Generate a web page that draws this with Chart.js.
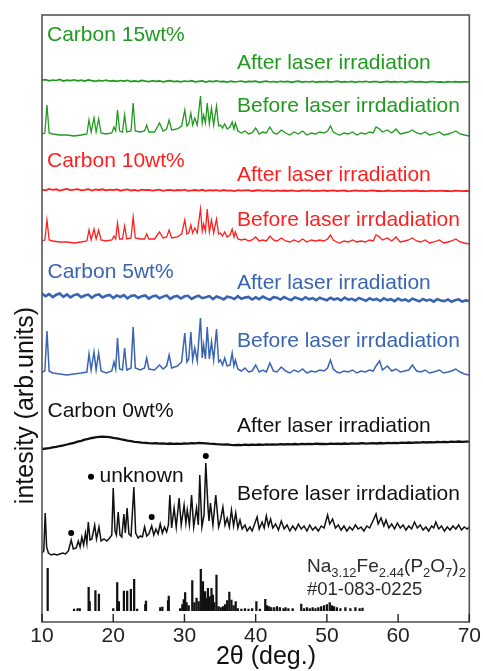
<!DOCTYPE html>
<html><head><meta charset="utf-8">
<script src="https://cdn.jsdelivr.net/npm/chart.js@4.4.1/dist/chart.umd.min.js"></script>
<style>html,body{margin:0;padding:0;background:#fff;overflow:hidden}canvas{display:block}</style>
</head><body><canvas id="c" width="483" height="671"></canvas>
<script>
// ---------- x axis ----------
const xTicks = [10, 20, 30, 40, 50, 60, 70];

// ---------- "after laser irradiation" patterns (2θ grid + relative intensity) ----------
const afterAngles = [
  10,10.5,11,11.5,12,12.5,13,13.5,14,14.5,
  15,15.5,16,16.5,17,17.5,18,18.5,19,19.5,
  20,20.5,21,21.5,22,22.5,23,23.5,24,24.5,
  25,25.5,26,26.5,27,27.5,28,28.5,29,29.5,
  30,30.5,31,31.5,32,32.5,33,33.5,34,34.5,
  35,35.5,36,36.5,37,37.5,38,38.5,39,39.5,
  40,40.5,41,41.5,42,42.5,43,43.5,44,44.5,
  45,45.5,46,46.5,47,47.5,48,48.5,49,49.5,
  50,50.5,51,51.5,52,52.5,53,53.5,54,54.5,
  55,55.5,56,56.5,57,57.5,58,58.5,59,59.5,
  60,60.5,61,61.5,62,62.5,63,63.5,64,64.5,
  65,65.5,66,66.5,67,67.5,68,68.5,69,69.5,
  70];
const green15After = [
  1.8,2.4,1.2,2.0,1.5,2.6,1.0,1.9,1.4,2.2,
  1.1,1.8,0.9,2.1,1.3,0.7,1.6,1.0,1.9,0.8,
  1.4,0.6,1.5,0.9,1.7,0.5,1.2,0.4,1.6,0.8,
  0.3,1.3,0.6,1.1,0.2,0.9,1.4,0.4,0.8,0.1,
  1.0,0.5,1.3,0.2,0.7,1.1,0.0,0.8,0.4,1.2,
  0.3,0.6,-0.2,0.9,0.2,0.5,1.0,-0.1,0.6,0.3,
  0.8,-0.3,0.4,0.9,0.0,0.5,-0.2,0.7,0.1,0.6,
  -0.4,0.3,0.8,-0.1,0.5,0.0,0.7,-0.3,0.4,0.2,
  0.6,-0.2,0.3,0.9,-0.1,0.4,0.0,0.6,-0.3,0.5,
  0.1,0.7,-0.2,0.3,0.5,-0.4,0.2,0.6,-0.1,0.4,
  0.0,0.5,-0.3,0.3,0.6,-0.2,0.4,0.1,-0.4,0.3,
  0.5,-0.1,0.2,-0.3,0.4,0.0,0.3,-0.2,0.1,0.2,
  0.0];
const red10After = [
  1.5,0.6,2.0,1.1,1.7,0.5,1.4,2.1,0.8,1.3,
  1.9,0.7,1.2,1.8,0.4,1.5,1.0,1.7,0.6,1.3,
  0.9,1.6,0.3,1.2,1.5,0.5,1.1,0.2,1.4,0.8,
  1.2,0.4,0.9,1.3,0.1,0.8,1.1,0.3,1.0,0.6,
  1.3,0.2,0.7,1.0,0.4,1.2,0.1,0.9,0.5,0.8,
  0.2,1.0,0.4,0.7,-0.1,0.8,0.3,0.6,0.9,0.0,
  0.5,0.8,0.1,0.6,0.3,-0.2,0.7,0.2,0.5,0.0,
  0.6,0.2,-0.1,0.5,0.3,0.7,-0.2,0.4,0.1,0.6,
  0.0,0.4,0.7,-0.1,0.3,0.5,-0.3,0.2,0.6,0.1,
  0.4,-0.2,0.3,0.6,0.0,0.2,-0.3,0.5,0.1,-0.1,
  0.4,0.2,-0.2,0.3,0.0,0.5,-0.1,0.2,-0.3,0.3,
  0.1,-0.2,0.4,0.0,0.2,-0.3,0.3,0.1,-0.1,0.2,
  0.0];
const blue5After = [
  4.5,1.8,3.9,0.9,3.2,4.4,1.1,3.6,0.6,2.9,
  3.8,0.8,2.5,3.4,0.2,2.8,3.5,0.5,2.2,3.1,
  -0.1,2.6,1.0,3.0,-0.4,2.0,2.7,0.1,1.8,2.5,
  -0.6,1.6,2.3,-0.3,1.4,2.6,-0.8,1.2,2.0,-0.5,
  1.7,2.2,-0.9,1.0,2.4,-0.2,0.8,1.9,-1.1,1.5,
  0.3,-1.4,1.3,0.6,-1.0,1.8,-0.7,0.4,1.1,-1.5,
  0.7,-1.2,1.4,-0.4,-1.8,0.9,0.2,-1.6,1.0,-0.9,
  -2.0,0.5,-0.6,-1.9,0.8,-1.3,-0.1,-2.2,0.3,-1.1,
  -2.3,0.2,-1.5,-0.5,-2.5,0.4,-1.7,-0.8,-2.6,0.0,
  -1.4,-2.8,-0.3,-1.9,-0.9,-3.0,-0.2,-2.1,-1.2,-3.2,
  -0.6,-2.4,-1.5,-3.3,-0.8,-2.0,-3.4,-1.0,-2.7,-1.6,
  -3.6,-1.1,-2.5,-3.1,-1.4,-3.8,-2.2,-1.3,-3.5,-2.4,
  -3.0];
const black0After = [
  -5.0,-4.6,-4.2,-3.4,-2.9,-2.0,-1.3,-0.5,0.4,1.2,
  2.3,3.2,4.3,5.1,6.0,6.6,7.1,7.4,7.2,6.9,
  6.2,5.6,4.8,4.1,3.3,2.8,2.2,1.8,1.3,1.1,
  0.8,0.6,0.9,0.4,0.6,0.2,0.5,0.1,0.4,0.2,
  0.5,0.3,0.8,0.6,1.1,0.9,0.7,0.4,0.2,-0.1,
  -0.3,-0.6,-0.4,-0.9,-1.1,-0.8,-1.2,-0.7,-1.0,-0.6,
  -0.9,-0.5,-0.8,-0.4,-0.7,-0.3,-0.6,-0.2,-0.5,-0.1,
  -0.4,0.0,-0.3,0.1,-0.2,0.2,-0.1,0.3,0.0,0.2,
  -0.1,0.3,0.1,0.4,0.0,0.5,0.2,0.6,0.3,0.5,
  0.8,0.4,0.7,0.9,0.5,1.0,0.7,1.1,0.8,1.2,
  0.9,1.3,1.1,1.5,1.2,1.6,1.4,1.8,1.5,1.9,
  1.7,2.0,1.8,2.2,1.9,2.3,2.1,2.5,2.2,2.4,
  2.3];

// ---------- "before laser irradiation" patterns (carbon 5/10/15 wt%) ----------
const beforeAngles = [
  10.0,10.4,10.7,11.0,11.5,12.5,13.5,14.5,15.5,16.3,
  16.6,16.9,17.3,17.6,17.95,18.3,19.0,19.8,20.1,20.35,
  20.6,20.9,21.3,21.6,21.9,22.5,22.8,23.1,23.8,24.4,
  24.7,25.0,25.8,26.5,27.0,27.5,27.85,28.2,29.0,29.6,
  30.05,30.35,30.6,30.9,31.15,31.45,31.8,32.25,32.5,32.7,
  32.95,33.2,33.5,33.8,34.1,34.5,34.8,35.05,35.35,35.65,
  36.0,36.4,36.7,36.95,37.15,37.5,38.0,38.5,39.0,39.5,
  40.0,40.5,41.0,41.5,42.0,42.5,43.0,43.6,44.2,44.8,
  45.4,46.0,46.6,47.2,47.8,48.4,49.0,49.6,50.1,50.5,
  50.9,51.4,51.8,52.4,53.0,53.6,54.2,54.8,55.4,56.0,
  56.5,56.9,57.4,57.8,58.5,59.1,59.7,60.3,60.9,61.5,
  62.0,62.6,63.2,63.8,64.4,65.0,65.8,66.4,67.0,67.5,
  68.1,68.7,69.3,70.0];
const green15Before = [
  1,2,30,2,1,0,0,-1,0,1,
  15,3,17,3,16,2,1,2,8,4,
  25,4,3,20,3,4,32,4,3,4,
  10,3,3,12,4,6,15,5,6,9,
  25,9,11,22,10,17,10,39,12,20,
  12,32,11,27,10,29,9,10,7,11,
  6,8,13,6,12,4,2,4,1,2,
  7,1,3,2,8,2,1,5,2,0,
  3,1,4,0,2,1,3,2,4,9,
  3,1,0,2,1,3,0,2,1,3,
  2,8,6,3,5,2,6,1,2,3,
  5,2,1,3,0,1,3,0,1,2,
  4,1,0,-1];
const red10Before = [
  1,2,22,2,1,0,0,-1,0,1,
  12,2,13,3,12,2,1,2,6,3,
  19,3,3,16,3,4,25,4,3,3,
  8,3,3,10,4,5,12,4,5,8,
  22,8,9,17,9,14,9,33,11,18,
  11,33,10,22,9,23,8,9,6,10,
  5,7,13,5,10,3,2,3,1,2,
  5,1,2,1,6,2,1,4,1,0,
  2,0,3,0,2,1,2,1,3,7,
  2,0,-1,1,0,2,0,1,0,2,
  1,7,5,2,4,1,5,0,1,2,
  4,1,0,2,-1,0,2,-1,0,1,
  3,0,-1,-2];
const blue5Before = [
  2,3,43,3,1,0,-1,0,1,2,
  20,4,22,4,21,3,1,3,12,5,
  36,5,4,26,4,6,47,6,4,6,
  16,5,4,9,5,8,19,6,8,12,
  41,12,15,42,14,26,13,56,16,29,
  15,47,15,32,14,45,12,14,9,16,
  8,9,21,8,14,5,3,6,2,3,
  9,2,4,2,11,3,2,7,3,1,
  4,2,5,1,3,2,4,3,6,14,
  5,2,1,3,2,4,1,3,2,4,
  3,8,13,4,8,3,5,2,3,4,
  9,3,2,4,1,2,4,1,2,3,
  5,2,0,-1];

// ---------- carbon 0 wt% before irradiation: [2θ, relative intensity] ----------
const black0Before = [
  [10.0,2],[10.25,4],[10.45,42],[10.65,8],[10.9,2],[11.3,0],[11.7,1],[12.1,0],[12.5,1],[12.9,2],
  [13.3,1],[13.7,4],[14.1,15],[14.4,6],[14.8,7],[15.1,14],[15.35,8],[15.6,18],[15.85,10],[16.1,22],
  [16.3,12],[16.5,33],[16.75,15],[17.0,16],[17.4,30],[17.65,16],[18.0,28],[18.3,14],[18.7,16],[19.1,14],
  [19.5,17],[19.8,20],[20.0,67],[20.25,24],[20.45,20],[20.7,43],[20.95,20],[21.2,18],[21.5,41],[21.7,22],
  [21.95,47],[22.2,21],[22.5,19],[22.9,68],[23.15,22],[23.5,17],[23.8,19],[24.1,18],[24.4,28],[24.7,19],
  [25.0,21],[25.4,29],[25.7,20],[26.0,26],[26.3,21],[26.6,31],[26.9,22],[27.2,28],[27.5,23],[27.75,30],
  [27.95,60],[28.2,27],[28.55,47],[28.85,28],[29.25,57],[29.55,30],[29.95,50],[30.2,32],[30.4,45],[30.7,30],
  [31.0,60],[31.3,28],[31.7,47],[31.95,30],[32.15,80],[32.45,28],[32.75,40],[33.0,92],[33.3,48],[33.45,34],
  [33.65,52],[34.0,30],[34.4,60],[34.8,28],[35.1,36],[35.4,48],[35.7,30],[36.0,37],[36.3,28],[36.6,45],
  [36.9,29],[37.2,42],[37.5,27],[37.8,35],[38.1,26],[38.5,30],[38.8,24],[39.2,28],[39.5,24],[39.9,32],
  [40.2,38],[40.5,26],[40.9,33],[41.2,27],[41.5,39],[41.8,29],[42.1,36],[42.4,27],[42.8,31],[43.2,25],
  [43.6,34],[44.0,26],[44.4,30],[44.8,24],[45.2,29],[45.6,25],[46.0,31],[46.4,26],[46.8,29],[47.2,24],
  [47.6,30],[48.0,25],[48.4,28],[48.8,24],[49.2,29],[49.6,27],[50.1,40],[50.4,31],[50.8,36],[51.2,27],
  [51.6,30],[52.0,25],[52.4,29],[52.8,24],[53.2,28],[53.6,25],[54.0,30],[54.4,26],[54.8,28],[55.2,24],
  [55.6,29],[56.0,27],[56.4,33],[56.9,41],[57.2,31],[57.6,37],[58.0,29],[58.3,35],[58.7,27],[59.1,31],
  [59.5,26],[59.9,32],[60.3,27],[60.7,30],[61.1,25],[61.5,29],[61.9,26],[62.3,33],[62.7,27],[63.1,30],
  [63.5,25],[63.9,28],[64.3,24],[64.7,29],[65.0,27],[65.3,33],[65.7,26],[66.1,29],[66.5,24],[66.9,28],
  [67.3,25],[67.7,29],[68.1,26],[68.5,30],[68.9,25],[69.3,28],[69.7,26],[70.0,28]];
// unknown-phase markers (2θ, relative intensity of the dot)
const unknownMarks = [[14.1,22],[25.4,38],[33.0,99]];

// ---------- reference pattern Na3.12Fe2.44(P2O7)2 #01-083-0225 ----------
const refAngles = [
  10.8,14.5,15.0,15.3,16.55,16.7,17.5,17.99,20.0,20.56,
  20.8,21.5,21.96,22.48,22.94,23.36,24.5,24.6,26.6,26.9,
  27.7,27.8,29.4,29.7,29.9,30.1,30.3,30.6,31.1,31.4,
  31.7,32.0,32.3,32.6,32.9,33.1,33.3,33.55,33.8,34.0,
  34.2,34.5,34.8,35.1,35.4,35.7,36.0,36.3,36.6,36.9,
  37.2,37.5,38.0,38.5,39.0,39.5,40.1,40.6,41.35,41.6,
  41.9,42.2,42.6,43.0,43.4,43.9,44.2,44.6,45.2,46.4,
  46.8,47.2,47.6,48.0,48.4,48.8,49.2,49.6,50.0,50.4,
  50.7,51.0,51.4,51.9,52.6,53.3,54.0,54.6,55.0];
const refIntensity = [
  42.4,1.5,2,2,23.4,9,20,16.7,2,28,
  9,19.7,19.7,21.4,31.4,1.5,6,9.7,3,3.5,
  10,14.7,2,6,11,18,8,5,30,8,
  12.7,9,41.4,29,19,12,22.4,14,22.4,15.7,
  8,35.7,4,3,4,6,10,18.7,10.7,5,
  9,2,1.5,2,1.5,2,9,1.5,11.4,5,
  4,3,3,4,3,2,3,2,2,6.7,
  2,3,2,3,2,3,4,5,6,8,
  5,4,3,2,3,2,3,2,2.5];

// ---------- stacking offsets of each trace (layout) ----------
const traceOffsets = {
  green15After: 540, green15Before: 487,
  red10After: 431, red10Before: 380,
  blue5After: 324, blue5Before: 248,
  black0After: 178, black0Before: 67,
  reference: 11.3
};
const colors = { green: '#1f9a1f', red: '#ff1f1f', blue: '#3864b2', black: '#111111', ref: '#111111' };

// ---------- build datasets ----------
const onGrid = (angles, vals, off) => angles.map((a, i) => ({ x: a, y: off + vals[i] }));
const onPairs = (pairs, off) => pairs.map(p => ({ x: p[0], y: off + p[1] }));
const lineDs = (data, color, w) => ({ type: 'line', data, borderColor: color, borderWidth: w, pointRadius: 0, tension: 0, fill: false });

const datasets = [
  lineDs(onGrid(afterAngles, green15After, traceOffsets.green15After), colors.green, 1.7),
  lineDs(onGrid(beforeAngles, green15Before, traceOffsets.green15Before), colors.green, 1.3),
  lineDs(onGrid(afterAngles, red10After, traceOffsets.red10After), colors.red, 1.8),
  lineDs(onGrid(beforeAngles, red10Before, traceOffsets.red10Before), colors.red, 1.3),
  lineDs(onGrid(afterAngles, blue5After, traceOffsets.blue5After), colors.blue, 2.6),
  lineDs(onGrid(beforeAngles, blue5Before, traceOffsets.blue5Before), colors.blue, 1.5),
  lineDs(onGrid(afterAngles, black0After, traceOffsets.black0After), colors.black, 2.3),
  lineDs(onPairs(black0Before, traceOffsets.black0Before), colors.black, 1.5),
  { type: 'scatter', data: onPairs(unknownMarks, traceOffsets.black0Before), pointRadius: 3, pointBackgroundColor: '#000', pointBorderWidth: 0, showLine: false },
  { type: 'bar', data: refAngles.map((a, i) => ({ x: a, y: [traceOffsets.reference, traceOffsets.reference + refIntensity[i]] })),
    backgroundColor: colors.ref, barThickness: 1.6, grouped: false, borderWidth: 0 }
];

// ---------- annotation texts ----------
const FONT = '"Liberation Sans", Arial, sans-serif';
const labels = [
  { t: 'Carbon 15wt%', x: 47, y: 40.7, c: colors.green },
  { t: 'After laser irradiation', x: 237, y: 69, c: colors.green },
  { t: 'Before laser irrdadiation', x: 237, y: 111.7, c: colors.green },
  { t: 'Carbon 10wt%', x: 47, y: 166.7, c: colors.red },
  { t: 'After laser irradiation', x: 237, y: 180.7, c: colors.red },
  { t: 'Before laser irrdadiation', x: 237, y: 226, c: colors.red },
  { t: 'Carbon 5wt%', x: 47.5, y: 278.3, c: colors.blue },
  { t: 'After laser irradiation', x: 237, y: 289, c: colors.blue },
  { t: 'Before laser irrdadiation', x: 237, y: 346.7, c: colors.blue },
  { t: 'Carbon 0wt%', x: 47.5, y: 416.7, c: colors.black },
  { t: 'After laser irradiation', x: 237, y: 432.3, c: colors.black },
  { t: 'Before laser irrdadiation', x: 237, y: 500, c: colors.black },
  { t: 'unknown', x: 99.5, y: 481.7, c: colors.black }
];
const formulaParts = [['Na', 0], ['3.12', 1], ['Fe', 0], ['2.44', 1], ['(P', 0], ['2', 1], ['O', 0], ['7', 1], [')', 0], ['2', 1]];
const pdfCode = '#01-083-0225';

const deco = {
  id: 'deco',
  afterDatasetsDraw(chart) {
    const { ctx, chartArea: a, scales: { x } } = chart;
    ctx.save();
    // frame
    ctx.strokeStyle = '#555';
    ctx.lineWidth = 1.6;
    ctx.strokeRect(a.left, a.top, a.right - a.left, a.bottom - a.top);
    // inner ticks
    ctx.strokeStyle = '#222';
    ctx.lineWidth = 1.4;
    xTicks.forEach(v => {
      const px = x.getPixelForValue(v);
      ctx.beginPath(); ctx.moveTo(px, a.bottom); ctx.lineTo(px, a.bottom - 8); ctx.stroke();
    });
    // labels
    ctx.textBaseline = 'alphabetic';
    ctx.textAlign = 'left';
    ctx.font = '21px ' + FONT;
    labels.forEach(l => { ctx.fillStyle = l.c; ctx.fillText(l.t, l.x, l.y); });
    // unknown legend dot
    ctx.fillStyle = '#000';
    ctx.beginPath(); ctx.arc(91, 476.7, 3, 0, Math.PI * 2); ctx.fill();
    // formula with subscripts
    let fx = 307;
    ctx.fillStyle = '#2a2a2a';
    formulaParts.forEach(([s, sub]) => {
      ctx.font = (sub ? '13px ' : '19px ') + FONT;
      ctx.fillText(s, fx, sub ? 576.5 : 571.7);
      fx += ctx.measureText(s).width;
    });
    ctx.font = '18.5px ' + FONT;
    ctx.fillText(pdfCode, 307, 595);
    // axis titles
    ctx.fillStyle = '#111';
    ctx.font = '25px ' + FONT;
    ctx.textAlign = 'center';
    ctx.textBaseline = 'middle';
    ctx.fillText('2θ (deg.)', 266, 657);
    ctx.translate(26, 405.5);
    ctx.rotate(-Math.PI / 2);
    ctx.fillText('intesity (arb.units)', 0, 0);
    ctx.restore();
  }
};

new Chart(document.getElementById('c'), {
  type: 'line',
  data: { datasets },
  options: {
    responsive: false,
    animation: false,
    devicePixelRatio: 1,
    layout: { padding: { left: 42, right: 12, top: 15, bottom: 0 } },
    plugins: { legend: { display: false }, tooltip: { enabled: false } },
    scales: {
      x: {
        type: 'linear', min: 10, max: 70, offset: false,
        afterBuildTicks: s => { s.ticks = xTicks.map(v => ({ value: v })); },
        afterFit: s => { s.height = 49; },
        grid: { display: false, drawTicks: false },
        border: { display: false },
        ticks: { padding: 2, color: '#222', font: { family: FONT, size: 21 }, maxRotation: 0, autoSkip: false }
      },
      y: { type: 'linear', min: 0, max: 607, display: false }
    }
  },
  plugins: [deco]
});
</script>
</body></html>
